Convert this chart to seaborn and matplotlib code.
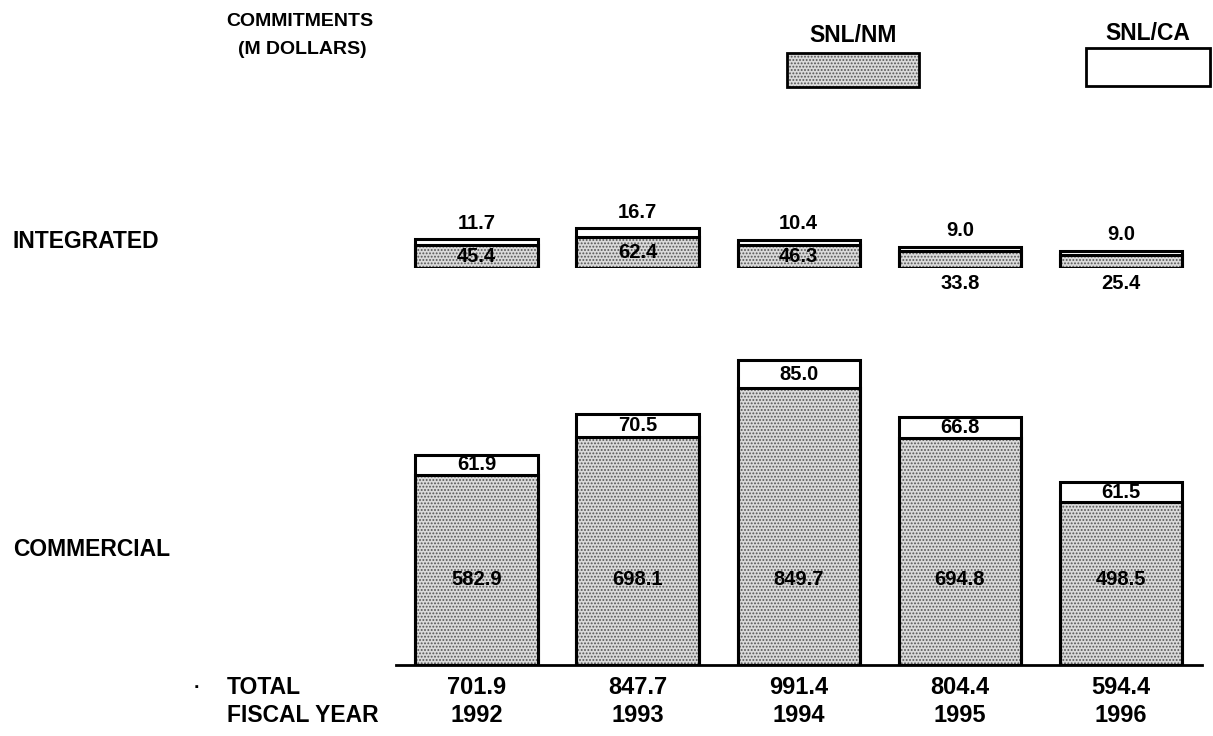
import matplotlib
matplotlib.use('Agg')
import matplotlib.pyplot as plt
from matplotlib.patches import Rectangle
import numpy as np
import pandas as pd
import seaborn as sns

# commitments in M dollars
years = ['1992', '1993', '1994', '1995', '1996']
comm_nm = [582.9, 698.1, 849.7, 694.8, 498.5]
comm_ca = [61.9, 70.5, 85.0, 66.8, 61.5]
integ_nm = [45.4, 62.4, 46.3, 33.8, 25.4]
integ_ca = [11.7, 16.7, 10.4, 9.0, 9.0]

sns.set_style('white')
plt.rcParams['font.family'] = ['Liberation Sans', 'DejaVu Sans']
plt.rcParams['font.weight'] = 'bold'
plt.rcParams['text.color'] = 'black'
plt.rcParams['hatch.linewidth'] = 0.9

W, H = 1213, 736
fx = lambda px: px / W
fy = lambda py: 1 - py / H

df = pd.DataFrame({'year': years, 'comm_nm': comm_nm, 'comm_ca': comm_ca,
                   'integ_nm': integ_nm, 'integ_ca': integ_ca})
df['comm_tot'] = df.comm_nm + df.comm_ca
df['integ_tot'] = df.integ_nm + df.integ_ca
df['total'] = df.comm_tot + df.integ_tot

fig = plt.figure(figsize=(W / 100, H / 100), dpi=100)
left, width = fx(396), fx(1201.5) - fx(396)
ax_c = fig.add_axes([left, fy(665), width, 326 / H])
ax_i = fig.add_axes([left, fy(268), width, 50 / H])

STIPPLE = dict(color='#dadada', edgecolor='#555555', linewidth=0, hatch='.....')
BW = 0.76


def stacked(ax, nm, tot):
    sns.barplot(data=df, x='year', y=tot, color='white', linewidth=0, width=BW, ax=ax)
    sns.barplot(data=df, x='year', y=nm, width=BW, ax=ax, **STIPPLE)
    sns.barplot(data=df, x='year', y=nm, fill=False, color='black', linewidth=2.2, width=BW, ax=ax)
    sns.barplot(data=df, x='year', y=tot, fill=False, color='black', linewidth=2.2, width=BW, ax=ax)
    ax.set_xlim(-0.5, 4.5)
    ax.set_xlabel('')
    ax.set_ylabel('')
    ax.set_xticks([])
    ax.set_yticks([])
    for s in ['top', 'left', 'right', 'bottom']:
        ax.spines[s].set_visible(False)
    ax.set_facecolor('none')


stacked(ax_c, 'comm_nm', 'comm_tot')
ax_c.set_ylim(0, 1000)
ax_c.spines['bottom'].set_visible(True)
ax_c.spines['bottom'].set_linewidth(2)
ax_c.spines['bottom'].set_color('black')

stacked(ax_i, 'integ_nm', 'integ_tot')
ax_i.set_ylim(0, 100)

fs = 14.5
for i, r in df.iterrows():
    ax_c.text(i, 261, f'{r.comm_nm:.1f}', ha='center', va='center', fontsize=fs)
    ax_c.text(i, r.comm_nm + r.comm_ca / 2, f'{r.comm_ca:.1f}', ha='center', va='center', fontsize=fs)
    ax_i.annotate(f'{r.integ_ca:.1f}', (i, r.integ_tot), xytext=(0, 5), textcoords='offset points',
                  ha='center', va='bottom', fontsize=fs)
    if r.integ_nm > 40:
        ax_i.text(i, r.integ_nm / 2, f'{r.integ_nm:.1f}', ha='center', va='center', fontsize=fs)
    else:
        ax_i.annotate(f'{r.integ_nm:.1f}', (i, 0), xytext=(0, -4), textcoords='offset points',
                      ha='center', va='top', fontsize=fs)
    ax_c.annotate(f'{r.total:.1f}', (i, fy(688)), xycoords=('data', 'figure fraction'),
                  ha='center', va='center', fontsize=17)
    ax_c.annotate(r.year, (i, fy(716)), xycoords=('data', 'figure fraction'),
                  ha='center', va='center', fontsize=17)

# row / header labels
fig.text(fx(300), fy(21), 'COMMITMENTS', ha='center', va='center', fontsize=14)
fig.text(fx(302), fy(50), '(M DOLLARS)', ha='center', va='center', fontsize=14)
fig.text(fx(13), fy(241), 'INTEGRATED', ha='left', va='center', fontsize=16.5)
fig.text(fx(13), fy(549), 'COMMERCIAL', ha='left', va='center', fontsize=16.5)
fig.text(fx(197), fy(688), '·', ha='center', va='center', fontsize=14)
fig.text(fx(227), fy(688), 'TOTAL', ha='left', va='center', fontsize=16.5)
fig.text(fx(227), fy(716), 'FISCAL YEAR', ha='left', va='center', fontsize=16.5)

# legend
fig.text(fx(853), fy(35), 'SNL/NM', ha='center', va='center', fontsize=16.5)
fig.text(fx(1148), fy(33), 'SNL/CA', ha='center', va='center', fontsize=16.5)
fig.add_artist(Rectangle((fx(787), fy(87)), fx(919) - fx(787), (87 - 53) / H,
                         transform=fig.transFigure, facecolor='#dadada', edgecolor='#555555',
                         linewidth=0, hatch='.....'))
fig.add_artist(Rectangle((fx(787), fy(87)), fx(919) - fx(787), (87 - 53) / H,
                         transform=fig.transFigure, fill=False, edgecolor='black', linewidth=2))
fig.add_artist(Rectangle((fx(1086), fy(86)), fx(1210) - fx(1086), (86 - 48) / H,
                         transform=fig.transFigure, facecolor='white', edgecolor='black', linewidth=2))

fig.savefig('out.png', dpi=100)
